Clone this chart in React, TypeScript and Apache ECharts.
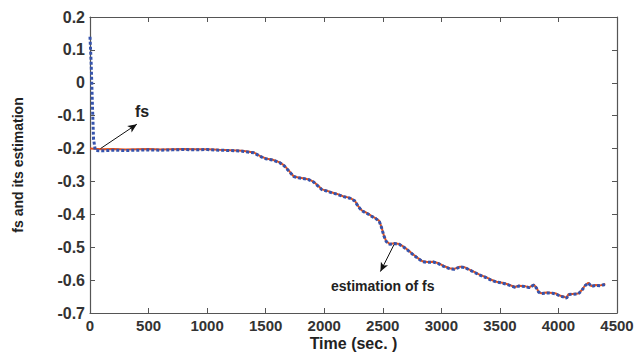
import React, { useEffect, useRef } from "react";
import * as echarts from "echarts";

const times = [0, 100, 200, 300, 400, 500, 600, 700, 800, 900, 1000, 1100, 1200, 1300, 1400, 1450, 1500, 1560, 1620, 1660, 1700, 1740, 1780, 1820, 1870, 1910, 1950, 1980, 2020, 2060, 2110, 2160, 2220, 2260, 2290, 2320, 2360, 2400, 2440, 2470, 2490, 2510, 2530, 2560, 2600, 2640, 2680, 2720, 2760, 2800, 2840, 2880, 2930, 2970, 3020, 3070, 3110, 3160, 3200, 3240, 3280, 3330, 3380, 3420, 3470, 3520, 3560, 3600, 3630, 3660, 3690, 3720, 3750, 3790, 3810, 3830, 3850, 3900, 3950, 3980, 4010, 4040, 4070, 4085, 4120, 4170, 4200, 4230, 4256, 4280, 4320, 4360, 4400];

const fsValues = [-0.200, -0.202, -0.201, -0.203, -0.202, -0.201, -0.203, -0.202, -0.201, -0.202, -0.202, -0.204, -0.205, -0.207, -0.212, -0.222, -0.230, -0.234, -0.242, -0.252, -0.268, -0.285, -0.288, -0.290, -0.294, -0.301, -0.314, -0.324, -0.328, -0.333, -0.338, -0.345, -0.350, -0.358, -0.375, -0.388, -0.395, -0.404, -0.412, -0.420, -0.440, -0.465, -0.482, -0.490, -0.488, -0.490, -0.499, -0.510, -0.522, -0.533, -0.543, -0.545, -0.544, -0.548, -0.557, -0.564, -0.566, -0.559, -0.561, -0.568, -0.575, -0.584, -0.591, -0.598, -0.605, -0.608, -0.612, -0.617, -0.621, -0.617, -0.618, -0.619, -0.622, -0.614, -0.622, -0.635, -0.640, -0.638, -0.639, -0.641, -0.647, -0.650, -0.654, -0.643, -0.642, -0.641, -0.630, -0.615, -0.608, -0.618, -0.615, -0.616, -0.612];

const estTimes = [0, 10, 20, 30, 45, 100, 200, 300, 400, 500, 600, 700, 800, 900, 1000, 1100, 1200, 1300, 1400, 1450, 1500, 1560, 1620, 1660, 1700, 1740, 1780, 1820, 1870, 1910, 1950, 1980, 2020, 2060, 2110, 2160, 2220, 2260, 2290, 2320, 2360, 2400, 2440, 2470, 2490, 2510, 2530, 2560, 2600, 2640, 2680, 2720, 2760, 2800, 2840, 2880, 2930, 2970, 3020, 3070, 3110, 3160, 3200, 3240, 3280, 3330, 3380, 3420, 3470, 3520, 3560, 3600, 3630, 3660, 3690, 3720, 3750, 3790, 3810, 3830, 3850, 3900, 3950, 3980, 4010, 4040, 4070, 4085, 4120, 4170, 4200, 4230, 4256, 4280, 4320, 4360, 4400];

const estValues = [0.140, 0.060, -0.060, -0.170, -0.206, -0.207, -0.205, -0.206, -0.205, -0.204, -0.205, -0.204, -0.203, -0.204, -0.203, -0.205, -0.206, -0.208, -0.213, -0.223, -0.231, -0.235, -0.243, -0.253, -0.269, -0.285, -0.289, -0.291, -0.295, -0.302, -0.315, -0.325, -0.329, -0.334, -0.339, -0.346, -0.351, -0.359, -0.376, -0.389, -0.396, -0.405, -0.413, -0.421, -0.441, -0.466, -0.483, -0.491, -0.489, -0.491, -0.500, -0.511, -0.523, -0.534, -0.544, -0.546, -0.545, -0.549, -0.558, -0.565, -0.567, -0.560, -0.562, -0.569, -0.576, -0.585, -0.592, -0.599, -0.606, -0.609, -0.613, -0.618, -0.622, -0.618, -0.619, -0.620, -0.623, -0.615, -0.623, -0.636, -0.641, -0.639, -0.640, -0.642, -0.648, -0.651, -0.655, -0.644, -0.643, -0.642, -0.631, -0.616, -0.609, -0.619, -0.616, -0.617, -0.613];

const xTicks = [0, 500, 1000, 1500, 2000, 2500, 3000, 3500, 4000, 4500];
const yTicks = [0.2, 0.1, 0, -0.1, -0.2, -0.3, -0.4, -0.5, -0.6, -0.7];

const FONT = "'Liberation Sans', Arial, sans-serif";

export default function App() {
  const ref = useRef<HTMLDivElement>(null);
  useEffect(() => {
    if (!ref.current) return;
    const chart = echarts.init(ref.current, null, { renderer: "svg" });
    const fsData = times.map((t, i) => [t, fsValues[i]]);
    const estData = estTimes.map((t, i) => [t, estValues[i]]);
    const axisColor = "#555";
    const labelStyle = { color: "#333", fontFamily: FONT, fontWeight: "bold" as const, fontSize: 16 };
    const axisLine = { onZero: false, lineStyle: { color: axisColor, width: 1.2 } };
    const axisTick = { inside: true, length: 5, lineStyle: { color: axisColor } };
    chart.setOption({
      animation: false,
      backgroundColor: "#fff",
      grid: { left: 90, right: 21, top: 17, bottom: 39, show: false, containLabel: false, outerBoundsMode: "none" },
      xAxis: [
        {
          type: "value",
          min: xTicks[0],
          max: xTicks[xTicks.length - 1],
          interval: 500,
          position: "bottom",
          name: "Time (sec. )",
          nameLocation: "middle",
          nameGap: 30,
          nameMoveOverlap: false,
          nameTextStyle: { ...labelStyle, fontSize: 16, color: "#222", verticalAlign: "middle", lineHeight: 16 },
          axisLine,
          axisTick,
          axisLabel: { ...labelStyle, fontSize: 15, lineHeight: 15, margin: 5, formatter: (v: number) => String(v) },
          splitLine: { show: false },
        },
        {
          type: "value",
          min: xTicks[0],
          max: xTicks[xTicks.length - 1],
          interval: 500,
          position: "top",
          axisLine,
          axisTick,
          axisLabel: { show: false },
          splitLine: { show: false },
        },
      ],
      yAxis: [
        {
          type: "value",
          min: yTicks[yTicks.length - 1],
          max: yTicks[0],
          interval: 0.1,
          position: "left",
          name: "fs and its estimation",
          nameLocation: "middle",
          nameGap: 72,
          nameMoveOverlap: false,
          nameTextStyle: { ...labelStyle, fontSize: 14, color: "#222", verticalAlign: "middle" },
          axisLine,
          axisTick,
          axisLabel: {
            ...labelStyle,
            margin: 5,
            formatter: (v: number) => {
              const r = Math.round(v * 10) / 10;
              return r === 0 ? "0" : String(r);
            },
          },
          splitLine: { show: false },
        },
        {
          type: "value",
          min: yTicks[yTicks.length - 1],
          max: yTicks[0],
          interval: 0.1,
          position: "right",
          axisLine,
          axisTick,
          axisLabel: { show: false },
          splitLine: { show: false },
        },
      ],
      series: [
        {
          name: "fs",
          type: "line",
          data: fsData,
          showSymbol: false,
          lineStyle: { color: "#E0521E", width: 2 },
          markLine: {
            silent: true,
            symbol: ["none", "arrow"],
            symbolSize: [6, 9],
            label: { show: false },
            lineStyle: { color: "#111", width: 1, type: "solid" },
            data: [
              [{ coord: [90, -0.2] }, { coord: [400, -0.126] }],
              [{ coord: [2596, -0.492] }, { coord: [2480, -0.574] }],
            ],
          },
        },
        {
          name: "estimation",
          type: "line",
          data: estData,
          showSymbol: false,
          lineStyle: { color: "#3553AD", width: 3, type: [3, 2] },
        },
      ],
      graphic: [
        {
          type: "text",
          left: 135,
          top: 103,
          style: { text: "fs", font: `bold 16px ${FONT}`, fill: "#222" },
        },
        {
          type: "text",
          left: 331,
          top: 279,
          style: { text: "estimation of fs", font: `bold 14px ${FONT}`, fill: "#222" },
        },
      ],
    });
    return () => chart.dispose();
  }, []);
  return <div ref={ref} style={{ width: 638, height: 352, position: "absolute", left: 0, top: 0 }} />;
}
